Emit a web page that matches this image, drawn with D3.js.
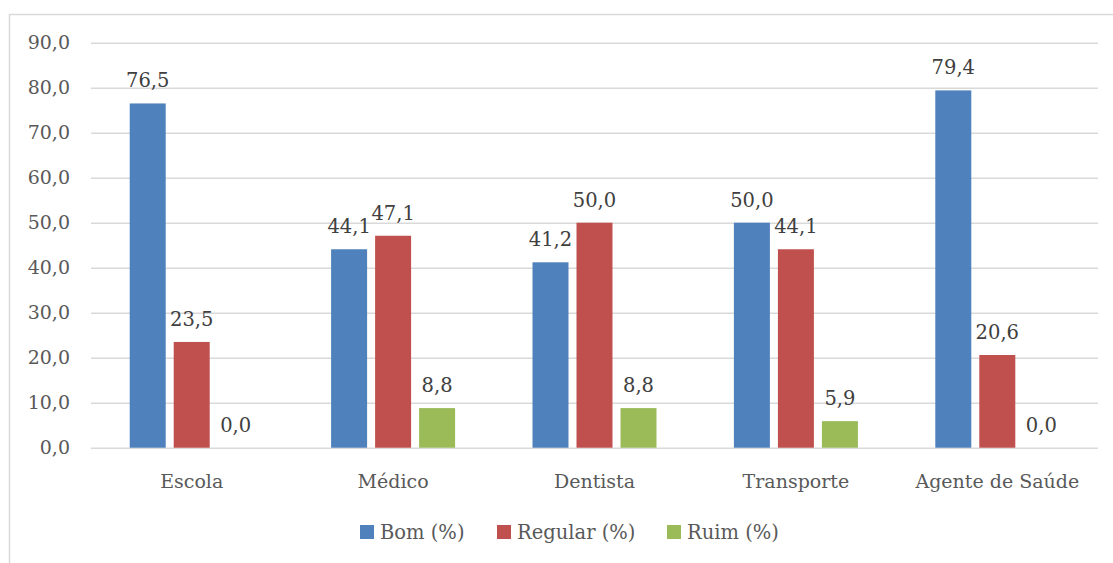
<!DOCTYPE html>
<html lang="pt">
<head>
  <meta charset="UTF-8">
  <title>Avaliação dos serviços</title>
  <style>
    body { margin: 0; background: #fff; }
    svg text { font-family: "DejaVu Serif", serif; }
  </style>
</head>
<body>
  <svg class="chart"></svg>
  <script src="https://cdn.jsdelivr.net/npm/d3@7"></script>
  <script>
    var categories = ["Escola", "Médico", "Dentista", "Transporte", "Agente de Saúde"];
    var seriesNames = ["Bom (%)", "Regular (%)", "Ruim (%)"];
    var bom = [76.5, 44.1, 41.2, 50.0, 79.4];
    var regular = [23.5, 47.1, 50.0, 44.1, 20.6];
    var ruim = [0.0, 8.8, 8.8, 5.9, 0.0];
    var yTicks = [0, 10, 20, 30, 40, 50, 60, 70, 80, 90];

    var colors = ["#4F81BD", "#C0504D", "#9BBB59"];
    var values = [bom, regular, ruim];

    var svgWidth = 1113, svgHeight = 563;
    var plotLeft = 91, plotRight = 1098, plotTop = 42.7, plotBottom = 447.7;

    var svg = d3.select("svg")
      .attr("width", svgWidth)
      .attr("height", svgHeight);

    // chart frame (cut off at right/bottom like the original)
    svg.append("rect")
      .attr("x", 9.5).attr("y", 14.5)
      .attr("width", 1200).attr("height", 700)
      .attr("fill", "none")
      .attr("stroke", "#d9d9d9")
      .attr("stroke-width", 1.5);

    var yScale = d3.scaleLinear().domain([0, 90]).range([plotBottom, plotTop]);
    var x0 = d3.scaleBand().domain(categories).range([plotLeft, plotRight]).padding(0);
    var groupW = 124;
    var x1 = d3.scaleBand().domain(seriesNames)
      .range([(x0.bandwidth() - groupW) / 2, (x0.bandwidth() + groupW) / 2])
      .paddingInner(16 / 88).paddingOuter(0);

    var fmt = function (d) { return d3.format(".1f")(d).replace(".", ","); };

    // gridlines + y labels
    var yAxis = d3.axisLeft(yScale)
      .tickValues(yTicks)
      .tickSize(-(plotRight - plotLeft))
      .tickPadding(21)
      .tickFormat(fmt);
    var gy = svg.append("g")
      .attr("transform", "translate(" + plotLeft + ",0)")
      .call(yAxis);
    gy.select(".domain").remove();
    gy.selectAll("line").attr("stroke", "#d9d9d9").attr("stroke-width", 1.5);
    gy.selectAll("text")
      .attr("fill", "#595959")
      .style("font-size", "19px")
      .style("font-family", "DejaVu Serif, serif");

    // x labels
    var xAxis = d3.axisBottom(x0).tickSize(0).tickPadding(27);
    var gx = svg.append("g")
      .attr("transform", "translate(0," + plotBottom + ")")
      .call(xAxis);
    gx.select(".domain").remove();
    gx.selectAll("text")
      .attr("fill", "#595959")
      .style("font-size", "19px")
      .style("font-family", "DejaVu Serif, serif");

    // bars
    var groups = svg.selectAll("g.cat")
      .data(categories)
      .enter().append("g")
      .attr("class", "cat")
      .attr("transform", function (d) { return "translate(" + x0(d) + ",0)"; });

    groups.each(function (cat, ci) {
      var g = d3.select(this);
      var rows = seriesNames.map(function (s, si) {
        return { s: s, si: si, v: values[si][ci] };
      });
      g.selectAll("rect")
        .data(rows)
        .enter().append("rect")
        .attr("x", function (d) { return x1(d.s); })
        .attr("y", function (d) { return yScale(d.v); })
        .attr("width", x1.bandwidth())
        .attr("height", function (d) { return plotBottom - yScale(d.v); })
        .attr("fill", function (d) { return colors[d.si]; });
      g.selectAll("text")
        .data(rows)
        .enter().append("text")
        .attr("x", function (d) { return x1(d.s) + x1.bandwidth() / 2; })
        .attr("y", function (d) { return yScale(d.v) - 16; })
        .attr("text-anchor", "middle")
        .attr("fill", "#404040")
        .style("font-size", "19.5px")
        .text(function (d) { return fmt(d.v); });
    });

    // legend
    var legendX = [360, 497, 667];
    var legend = svg.selectAll("g.legend")
      .data(seriesNames)
      .enter().append("g")
      .attr("class", "legend")
      .attr("transform", function (d, i) { return "translate(" + legendX[i] + ",525)"; });
    legend.append("rect")
      .attr("width", 14).attr("height", 14)
      .attr("fill", function (d, i) { return colors[i]; });
    legend.append("text")
      .attr("x", 20).attr("y", 14)
      .attr("fill", "#595959")
      .style("font-size", "19.5px")
      .text(function (d) { return d; });
  </script>
</body>
</html>
